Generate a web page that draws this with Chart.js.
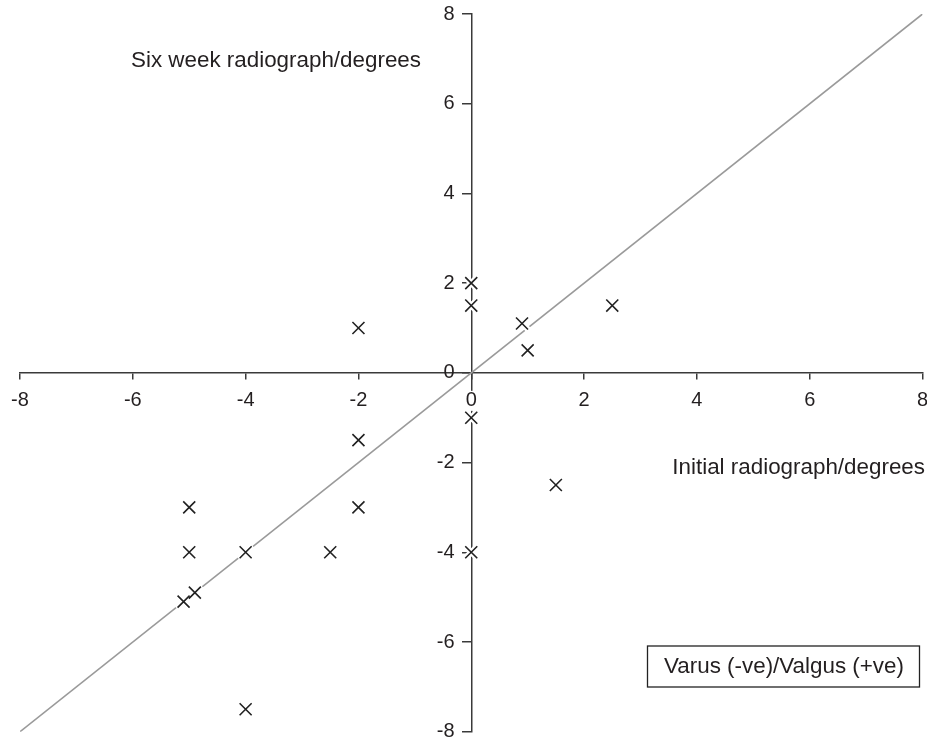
<!DOCTYPE html>
<html>
<head>
<meta charset="utf-8">
<script src="https://cdn.jsdelivr.net/npm/chart.js@4/dist/chart.umd.min.js"></script>
<style>
  html, body { margin: 0; padding: 0; background: #fff; }
  #wrap { width: 927px; height: 740px; }
</style>
</head>
<body>
<div id="wrap"><canvas id="c" width="927" height="740"></canvas></div>
<script>
// Data
const initialDeg = [0, 0, -2, 0.9, 1, 2.5, 0, -2, 1.5, -5, -2, -5, -4, -2.5, 0, -5.1, -4.9, -4];
const sixWeekDeg = [2, 1.5, 1, 1.1, 0.5, 1.5, -1, -1.5, -2.5, -3, -3, -4, -4, -4, -4, -5.1, -4.9, -7.5];
const identityX = [-8, 8];
const identityY = [-8, 8];
const axisMin = -8;
const axisMax = 8;
const tickStep = 2;
const yAxisLabel = 'Six week radiograph/degrees';
const xAxisLabel = 'Initial radiograph/degrees';
const legendText = 'Varus (-ve)/Valgus (+ve)';

const FONT = "'Liberation Sans', Arial, Helvetica, sans-serif";
const TEXT_COLOR = '#231f20';
const AXIS_COLOR = '#3a3a3a';

const points = initialDeg.map((x, i) => ({ x: x, y: sixWeekDeg[i] }));
const identity = identityX.map((x, i) => ({ x: x, y: identityY[i] }));

const annotations = {
  id: 'annotations',
  afterDraw(chart) {
    const ctx = chart.ctx;
    ctx.save();
    ctx.fillStyle = TEXT_COLOR;
    ctx.font = '22.4px ' + FONT;
    ctx.textBaseline = 'alphabetic';
    ctx.textAlign = 'left';
    ctx.fillText(yAxisLabel, 131, 66.5);
    ctx.textAlign = 'right';
    ctx.fillText(xAxisLabel, 925, 473.5);
    // legend box
    ctx.fillStyle = '#fff';
    ctx.fillRect(647.5, 646, 272, 41);
    ctx.strokeStyle = '#222';
    ctx.lineWidth = 1.3;
    ctx.strokeRect(647.5, 646, 272, 41);
    ctx.fillStyle = TEXT_COLOR;
    ctx.textAlign = 'center';
    ctx.textBaseline = 'middle';
    ctx.fillText(legendText, 784, 667);
    ctx.restore();
  }
};

function zeroFit(scale, horizontal) {
  if (horizontal) scale.height = 0; else scale.width = 0;
  scale.paddingLeft = 0; scale.paddingRight = 0;
  scale.paddingTop = 0; scale.paddingBottom = 0;
}

new Chart(document.getElementById('c'), {
  type: 'scatter',
  data: {
    datasets: [
      {
        label: 'markers',
        data: points,
        pointStyle: 'crossRot',
        pointRadius: 8.5,
        pointHoverRadius: 8.5,
        borderColor: '#222',
        backgroundColor: '#222',
        pointBorderWidth: 1.6,
        borderWidth: 1.6,
        order: 0
      },
      {
        label: 'halo',
        data: points,
        pointStyle: 'crossRot',
        pointRadius: 9.5,
        pointHoverRadius: 9.5,
        borderColor: '#fff',
        backgroundColor: '#fff',
        pointBorderWidth: 6,
        borderWidth: 6,
        order: 1
      },
      {
        label: 'identity',
        data: identity,
        showLine: true,
        pointRadius: 0,
        borderColor: '#9a9a9a',
        borderWidth: 1.6,
        order: 2
      }
    ]
  },
  options: {
    responsive: false,
    animation: false,
    events: [],
    layout: { autoPadding: false, padding: { left: 20, right: 4.5, top: 14, bottom: 8.3 } },
    plugins: { legend: { display: false }, tooltip: { enabled: false } },
    scales: {
      x: {
        type: 'linear',
        min: axisMin, max: axisMax,
        position: { y: 0 },
        afterFit: s => zeroFit(s, true),
        border: { display: true, color: AXIS_COLOR, width: 1.5 },
        grid: { display: true, drawOnChartArea: false, drawTicks: true, tickLength: 6, color: AXIS_COLOR, lineWidth: 1.5 },
        ticks: {
          stepSize: tickStep, color: TEXT_COLOR, font: { family: FONT, size: 20, lineHeight: 1 },
          padding: 12, maxRotation: 0, autoSkip: false, z: 1,
          showLabelBackdrop: true, backdropColor: '#fff', backdropPadding: 0
        }
      },
      y: {
        type: 'linear',
        min: axisMin, max: axisMax,
        position: { x: 0 },
        afterFit: s => zeroFit(s, false),
        border: { display: true, color: AXIS_COLOR, width: 1.5 },
        grid: { display: true, drawOnChartArea: false, drawTicks: true, tickLength: 9, color: AXIS_COLOR, lineWidth: 1.5 },
        ticks: {
          stepSize: tickStep, color: TEXT_COLOR, font: { family: FONT, size: 20 },
          autoSkip: false,
          // centred axes place labels flush with the axis line; trailing spaces push them left of the tick marks
          callback: v => v + '   '
        }
      }
    }
  },
  plugins: [annotations]
});
</script>
</body>
</html>
